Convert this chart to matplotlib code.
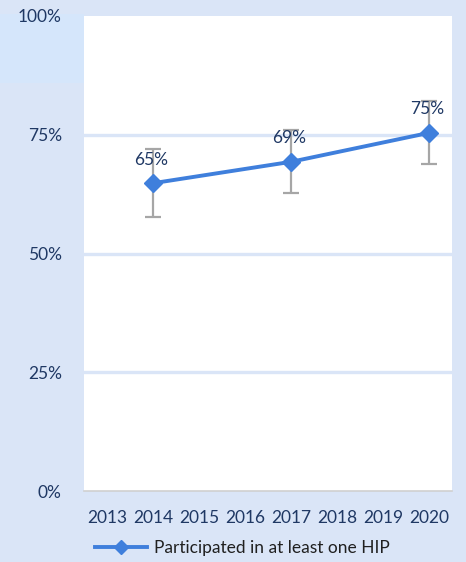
import numpy as np
import matplotlib.pyplot as plt
from matplotlib.patches import Rectangle

years = ['2013', '2014', '2015', '2016', '2017', '2018', '2019', '2020']
point_years = ['2014', '2017', '2020']
values = [0.648, 0.693, 0.754]
err_low = [0.577, 0.627, 0.688]
err_high = [0.720, 0.760, 0.821]
labels = ['65%', '69%', '75%']
series_name = 'Participated in at least one HIP'

navy = '#1f3864'
bg = '#dae5f7'
line_col = '#3f7fdc'

plt.rcParams['font.family'] = ['Lato', 'DejaVu Sans']

fig = plt.figure(figsize=(4.66, 5.62), dpi=100, facecolor=bg)
# lighter patch behind the top-left corner
fig.patches.append(Rectangle((0, 1 - 83 / 562), 84 / 466, (83 - 14) / 562,
                             transform=fig.transFigure, facecolor='#d5e6fb',
                             edgecolor='none', zorder=-5))

ax = fig.add_axes([84 / 466, 1 - 491 / 562, 368 / 466, 475 / 562])
ax.set_facecolor('white')

x = np.array([years.index(y) for y in point_years])
vals = np.array(values)
yerr = np.array([vals - np.array(err_low), np.array(err_high) - vals])

ax.errorbar(x, vals, yerr=yerr, fmt='none', ecolor='#a6a6a6', elinewidth=1.6,
            capsize=6, capthick=1.6, zorder=3)
ax.plot(x, vals, color=line_col, lw=2.8, marker='D', markersize=9,
        label=series_name, zorder=4)

for xi, v, lab in zip(x, vals, labels):
    ax.text(xi - 0.03, v + 0.033, lab, ha='center', va='bottom',
            fontsize=12.5, color=navy, zorder=5)

ax.set_xlim(-0.5, len(years) - 0.5)
ax.set_ylim(0, 1)
ax.set_xticks(range(len(years)))
ax.set_xticklabels(years)
ax.set_yticks([0, 0.25, 0.5, 0.75, 1.0])
ax.set_yticklabels(['0%', '25%', '50%', '75%', '100%'])
ax.tick_params(axis='both', length=0, labelsize=12.5, labelcolor=navy)
ax.tick_params(axis='x', pad=14)
ax.tick_params(axis='y', pad=16)

for g in [0.25, 0.5, 0.75]:
    ax.axhline(g, color=bg, lw=2.4, zorder=1)

for s in ['top', 'right', 'left']:
    ax.spines[s].set_visible(False)
ax.spines['bottom'].set_color('#d0d0d0')
ax.spines['bottom'].set_linewidth(1.2)

fig.legend(loc='center', bbox_to_anchor=(242 / 466, 1 - 548 / 562), frameon=False,
           fontsize=12.5, handlelength=3.0, handletextpad=0.4, markerscale=0.75,
           labelcolor='#202020')

fig.savefig('out.png', dpi=100, facecolor=bg)
